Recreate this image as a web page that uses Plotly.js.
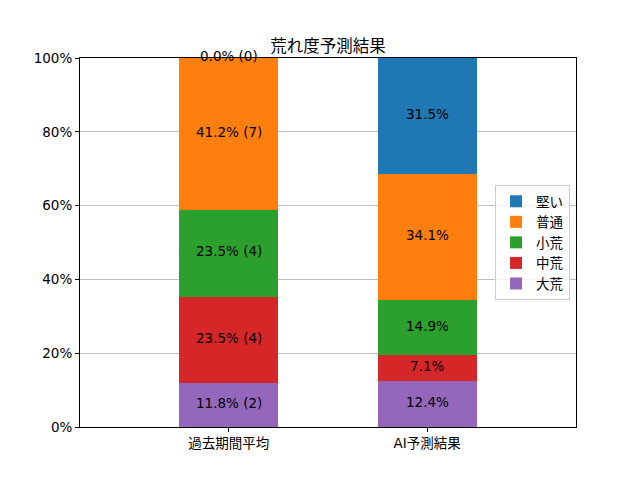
<!DOCTYPE html>
<html>
<head>
<meta charset="utf-8">
<script src="https://cdn.plot.ly/plotly-3.0.1.min.js"></script>
<style>
  html, body { margin: 0; padding: 0; background: #fff; }
  #chart { width: 640px; height: 480px; }
</style>
</head>
<body>
<div id="chart"></div>
<script>
// categories and series (bottom to top)
const categories = ["過去期間平均", "AI予測結果"];
const seriesNames = ["大荒", "中荒", "小荒", "普通", "堅い"];
const seriesColors = ["#9467bd", "#d62728", "#2ca02c", "#ff7f0e", "#1f77b4"];
const pastPct = [11.8, 23.5, 23.5, 41.2, 0.0];
const pastCount = [2, 4, 4, 7, 0];
const aiPct = [12.4, 7.1, 14.9, 34.1, 31.5];

const FONT = "'DejaVu Sans', 'Noto Sans CJK JP', sans-serif";

// one trace per series
const traces = seriesNames.map((name, i) => ({
  type: "bar",
  name: name,
  x: categories,
  y: [pastPct[i], aiPct[i]],
  width: 0.5,
  marker: { color: seriesColors[i], line: { width: 0 } },
  hoverinfo: "name+y"
}));

// segment labels at the middle of each stacked piece
const annotations = [];
let basePast = 0, baseAi = 0;
seriesNames.forEach((name, i) => {
  annotations.push({
    x: categories[0], y: basePast + pastPct[i] / 2, yshift: 2,
    text: pastPct[i].toFixed(1) + "% (" + pastCount[i] + ")",
    showarrow: false, font: { family: FONT, size: 13.5, color: "#000" }
  });
  annotations.push({
    x: categories[1], y: baseAi + aiPct[i] / 2, yshift: 2,
    text: aiPct[i].toFixed(1) + "%",
    showarrow: false, font: { family: FONT, size: 13.5, color: "#000" }
  });
  basePast += pastPct[i];
  baseAi += aiPct[i];
});

const layout = {
  width: 640,
  height: 480,
  barmode: "stack",
  paper_bgcolor: "#fff",
  plot_bgcolor: "#fff",
  font: { family: FONT, size: 13.5, color: "#000" },
  margin: { l: 80, r: 64, t: 58, b: 53 },
  title: {
    text: "荒れ度予測結果",
    font: { family: FONT, size: 16.5, color: "#000" },
    x: 0.5, xref: "paper", xanchor: "center",
    y: 1, yref: "paper", yanchor: "bottom", pad: { b: 6 }
  },
  xaxis: {
    type: "category",
    range: [-0.75, 1.75],
    showgrid: false,
    zeroline: false,
    showline: true, linecolor: "#000", linewidth: 1, mirror: true,
    ticks: "outside", ticklen: 4, tickcolor: "#000", tickwidth: 1,
    tickfont: { family: FONT, size: 13.5, color: "#000" }
  },
  yaxis: {
    range: [0, 100],
    tickvals: [0, 20, 40, 60, 80, 100],
    ticktext: ["0%", "20%", "40%", "60%", "80%", "100%"],
    showgrid: true, gridcolor: "#b0b0b0", gridwidth: 0.8,
    zeroline: false,
    showline: true, linecolor: "#000", linewidth: 1, mirror: true,
    ticks: "outside", ticklen: 4, tickcolor: "#000", tickwidth: 1,
    tickfont: { family: FONT, size: 13.5, color: "#000" }
  },
  legend: {
    x: 0.988, xanchor: "right",
    y: 0.5, yanchor: "middle",
    traceorder: "reversed",
    bgcolor: "rgba(255,255,255,0.8)",
    bordercolor: "#cccccc", borderwidth: 1,
    font: { family: FONT, size: 13.5, color: "#000" },
    itemwidth: 30
  },
  annotations: annotations,
  showlegend: true
};

Plotly.newPlot("chart", traces, layout, { displayModeBar: false, staticPlot: true });
</script>
</body>
</html>
